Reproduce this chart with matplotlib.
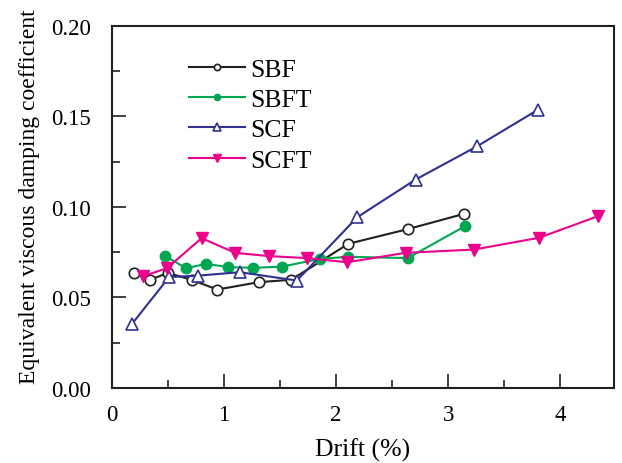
import matplotlib.pyplot as plt
from matplotlib.ticker import MultipleLocator

plt.rcParams['font.family'] = ['Liberation Serif', 'DejaVu Serif']

sbf_x = [0.20, 0.34, 0.50, 0.71, 0.94, 1.31, 1.60, 2.11, 2.64, 3.14]
sbf_y = [0.0634, 0.0597, 0.0635, 0.0597, 0.0543, 0.0584, 0.0597, 0.0796, 0.0877, 0.0961]

sbft_x = [0.47, 0.66, 0.84, 1.04, 1.26, 1.52, 1.86, 2.11, 2.64, 3.15]
sbft_y = [0.0731, 0.0661, 0.0685, 0.0667, 0.0663, 0.0670, 0.0713, 0.0724, 0.0717, 0.0893]

scf_x = [0.18, 0.51, 0.77, 1.14, 1.65, 2.19, 2.71, 3.26, 3.80]
scf_y = [0.0354, 0.0612, 0.0620, 0.0639, 0.0593, 0.0943, 0.1151, 0.1335, 0.1536]

scft_x = [0.28, 0.49, 0.80, 1.10, 1.40, 1.74, 2.10, 2.62, 3.23, 3.81, 4.34]
scft_y = [0.0617, 0.0661, 0.0827, 0.0746, 0.0728, 0.0717, 0.0694, 0.0746, 0.0764, 0.0829, 0.0949]

x_ticks = [0, 1, 2, 3, 4]
y_ticks = [0.00, 0.05, 0.10, 0.15, 0.20]

fig = plt.figure(figsize=(6.22, 4.64), dpi=100)
ax = fig.add_axes([0.180, 0.162, 0.807, 0.780])

ax.plot(sbf_x, sbf_y, "-o", color="#231f20", lw=1.5, ms=7.5, mfc="white", mec="#231f20", mew=1.2, label="SBF")
ax.plot(sbft_x, sbft_y, "-o", color="#00a651", lw=1.5, ms=7.5, label="SBFT")
ax.plot(scf_x, scf_y, "-^", color="#2e3192", lw=1.5, ms=9, mfc="white", mec="#2e3192", mew=1.2, label="SCF")
ax.plot(scft_x, scft_y, "-v", color="#ec008c", lw=1.5, ms=9, label="SCFT")

ax.set_xlim(0, 4.48)
ax.set_ylim(0, 0.20)
ax.set_xticks(x_ticks)
ax.set_xticklabels([str(t) for t in x_ticks])
ax.set_yticks(y_ticks)
ax.set_yticklabels(["%.2f" % t for t in y_ticks])
ax.xaxis.set_minor_locator(MultipleLocator(0.5))
ax.yaxis.set_minor_locator(MultipleLocator(0.025))

ax.tick_params(which="both", direction="in", top=False, right=False, labelsize=16.5, width=1.2, color="#231f20")
ax.tick_params(axis="x", which="major", length=10, pad=12)
ax.tick_params(axis="y", which="major", length=10, pad=15)
ax.tick_params(which="minor", length=6)
for s in ax.spines.values():
    s.set_linewidth(1.5)
    s.set_color("#231f20")

ax.set_xlabel("Drift (%)", fontsize=18.5, labelpad=9)
ax.set_ylabel("Equivalent viscous damping coefficient", fontsize=17)
ax.yaxis.set_label_coords(-0.143, 0.53)

ax.legend(loc="upper left", bbox_to_anchor=(0.107, 0.975), frameon=False, fontsize=18.5,
          handlelength=2.2, handletextpad=0.2, labelspacing=0.28, markerscale=0.6)

fig.savefig("out.png", dpi=100)
